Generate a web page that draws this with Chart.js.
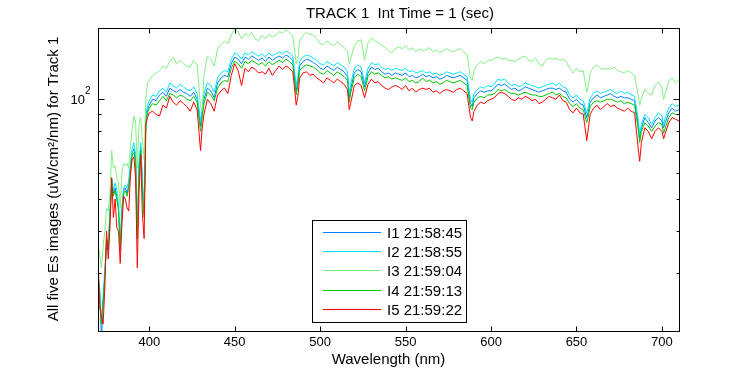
<!DOCTYPE html>
<html>
<head>
<meta charset="utf-8">
<script src="https://cdn.jsdelivr.net/npm/chart.js@4.4.1/dist/chart.umd.min.js"></script>
<style>
  html, body { margin: 0; padding: 0; background: #fff; }
  #wrap { width: 750px; height: 375px; }
</style>
</head>
<body>
<div id="wrap"><canvas id="esChart" width="750" height="375"></canvas></div>
<script>
// wavelength samples (nm)
const wavelength = [
  370,371,372,373,374,375,376,377,378,379,380,381,382,383,384,385,386,387,388,389,390,391,392,393,394,395,396,397,398,399,400,
  402,404,406,408,410,412,414,416,418,420,422,424,426,428,430,431,
  432,434,436,438,440,442,444,446,448,450,452,454,456,458,460,462,464,466,468,470,472,474,476,478,480,482,484,486,487,
  488,490,492,494,496,498,500,502,504,506,508,510,512,514,516,517,
  518,520,522,524,526,528,530,532,534,536,538,540,542,544,546,548,550,552,554,556,558,560,562,564,566,568,570,572,574,576,578,580,582,584,586,588,589,
  590,592,594,596,598,600,602,604,606,608,610,612,614,616,618,620,622,624,626,628,630,632,634,636,638,640,642,644,646,648,650,652,654,656,657,
  658,660,662,664,666,668,670,672,674,676,678,680,682,684,686,687,
  688,690,692,694,696,698,700,701,702,704,706,708,710
];

// Es values per image (uW/cm^2/nm)
const i1 = [
  27,26,19,24,30,36,35,45,57,52,54,51,47,35,46,53,54,52,55,62,69,71,66,39,62,72,55,45,87,93,96,
  100,99,103,105,102,108,106,105,107,105,104,102,105,100,83,91,
  100,108,106,101,112,116,118,117,128,134,132,128,134,132,135,133,131,133,130,134,131,133,135,133,136,134,131,106,114,
  126,130,132,131,129,127,124,123,126,124,122,125,123,121,117,101,
  108,120,123,121,109,120,125,123,124,121,119,120,118,120,119,118,120,117,118,116,117,119,117,118,116,117,115,116,118,117,116,117,118,116,114,97,95,
  101,104,106,105,106,106,108,111,110,111,109,107,108,106,107,109,108,107,106,105,106,107,108,108,107,108,106,105,100,98,100,97,96,88,92,
  98,101,103,101,102,103,104,102,101,102,101,101,100,99,85,76,
  82,88,85,82,86,88,86,82,85,91,94,92,93
];
const i2 = [
  29,27,21,25,31,37,37,46,58,53,56,53,48,37,47,54,55,54,57,64,71,74,68,40,64,74,57,46,89,96,99,
  103,102,106,108,105,112,110,108,111,109,107,106,109,104,86,94,
  104,112,110,105,116,120,122,121,132,138,136,132,138,136,139,137,135,137,134,138,135,137,139,137,140,138,135,110,118,
  130,134,136,135,133,131,128,127,130,128,126,129,127,125,121,104,
  112,124,127,125,112,124,129,127,128,125,123,124,122,124,123,122,124,121,122,120,121,122,120,121,119,120,118,119,121,120,119,120,121,119,117,100,98,
  104,107,109,108,110,109,111,115,114,115,112,110,111,109,110,112,111,110,109,108,109,110,111,112,110,112,109,108,103,101,103,100,99,91,95,
  101,104,106,104,105,106,107,105,104,106,104,105,103,102,88,78,
  84,90,88,84,88,91,89,84,88,94,97,95,96
];
const i3 = [
  37,34,31,36,40,47,46,52,70,62,63,58,56,47,60,64,63,64,62,72,82,89,86,62,84,88,75,66,101,112,114,
  118,120,122,126,124,130,134,128,131,128,126,125,131,127,95,92,
  118,135,132,126,142,146,150,147,156,163,160,152,158,155,159,152,150,156,152,157,154,156,160,158,162,159,155,128,132,
  150,156,159,157,156,152,147,146,150,147,145,149,146,143,140,128,
  133,145,150,151,131,148,153,150,148,146,143,140,138,142,144,142,145,141,143,139,142,140,141,143,139,141,138,140,142,140,139,141,142,139,136,116,114,
  122,127,130,128,131,131,133,134,132,133,131,131,130,132,134,135,131,130,133,128,126,131,133,132,133,131,132,130,124,120,124,121,122,105,110,
  120,125,127,124,123,124,123,125,122,121,120,122,120,118,104,96,
  101,107,104,103,110,113,108,100,104,114,116,112,115
];
const i4 = [
  31,24,21,25,29,38,36,44,56,51,53,50,46,36,45,52,53,51,54,61,68,69,65,38,60,70,53,44,85,91,94,
  97,96,99,102,99,104,103,101,103,102,100,99,102,98,80,88,
  97,105,103,99,108,112,114,113,124,130,128,124,130,128,131,129,127,129,126,130,127,129,131,129,132,130,127,103,110,
  122,125,127,126,125,123,120,119,122,120,118,121,119,117,114,98,
  105,116,119,117,106,117,121,119,120,118,116,117,115,116,115,114,116,113,114,112,113,116,113,114,112,113,111,112,114,113,112,113,114,112,110,94,93,
  98,101,102,101,103,103,104,107,106,107,105,104,104,103,104,105,104,103,103,102,102,103,104,105,103,104,102,101,97,95,97,94,93,85,89,
  95,98,99,98,99,100,100,99,98,99,97,98,97,96,82,74,
  80,85,83,80,83,85,84,79,82,88,91,90,90
];
const i5 = [
  33,24,22,21,27,40,33,41,58,44,50,41,40,32,42,51,50,47,46,59,66,67,58,31,52,68,45,38,84,88,91,
  92,90,89,96,94,102,98,96,99,97,95,92,98,93,70,82,
  90,100,97,92,103,106,108,104,118,128,122,110,124,121,125,123,120,121,119,124,118,122,126,123,126,124,121,96,102,
  116,120,121,118,119,116,114,112,116,114,112,115,113,111,107,93,
  98,110,112,110,101,111,115,112,113,110,108,107,109,110,109,107,110,106,108,105,107,108,107,108,105,106,104,106,107,106,105,107,108,106,104,88,86,
  92,96,98,97,99,100,101,104,105,104,102,100,99,101,100,102,101,99,100,97,98,100,102,101,100,103,99,98,93,91,94,91,90,75,82,
  90,94,96,93,95,97,95,96,94,93,92,94,92,91,72,65,
  74,82,80,76,80,82,80,76,79,85,88,87,86
];

const seriesLabels = ['I1 21:58:45', 'I2 21:58:55', 'I3 21:59:04', 'I4 21:59:13', 'I5 21:59:22'];
const seriesColors = ['#0080ff', '#00e6f6', '#80f080', '#00c800', '#ff0000'];
const xTicks = [400, 450, 500, 550, 600, 650, 700];
const yMajorTicks = [100];
const yMinorTicks = [30, 40, 50, 60, 70, 80, 90];

const FONT = "'Liberation Sans', Arial, Helvetica, sans-serif";

const toPoints = (ys) => ys.map((y, i) => ({ x: wavelength[i], y: y }));

const datasets = [i1, i2, i3, i4, i5].map((ys, k) => ({
  label: seriesLabels[k],
  data: toPoints(ys),
  borderColor: seriesColors[k],
  borderWidth: 1,
  pointRadius: 0,
  fill: false,
  tension: 0,
  order: 5 - k   // last image drawn on top, like matlab
}));

// box, inward ticks, labels and legend drawn matlab style
const matlabFrame = {
  id: 'matlabFrame',
  afterDatasetsDraw(chart) {
    const ctx = chart.ctx;
    const a = chart.chartArea;
    const xs = chart.scales.x;
    const ys = chart.scales.y;
    const L = Math.round(a.left) + 0.5, R = Math.round(a.right) + 0.5;
    const T = Math.round(a.top) + 0.5, B = Math.round(a.bottom) + 0.5;

    ctx.save();
    ctx.strokeStyle = '#000';
    ctx.lineWidth = 1;
    ctx.strokeRect(L, T, R - L, B - T);

    ctx.beginPath();
    xTicks.forEach(v => {
      const px = Math.round(xs.getPixelForValue(v)) + 0.5;
      ctx.moveTo(px, B); ctx.lineTo(px, B - 5);
      ctx.moveTo(px, T); ctx.lineTo(px, T + 5);
    });
    yMajorTicks.forEach(v => {
      const py = Math.round(ys.getPixelForValue(v)) + 0.5;
      ctx.moveTo(L, py); ctx.lineTo(L + 6, py);
      ctx.moveTo(R, py); ctx.lineTo(R - 6, py);
    });
    yMinorTicks.forEach(v => {
      const py = Math.round(ys.getPixelForValue(v)) + 0.5;
      ctx.moveTo(L, py); ctx.lineTo(L + 3, py);
      ctx.moveTo(R, py); ctx.lineTo(R - 3, py);
    });
    ctx.stroke();

    // 10^2 label
    ctx.fillStyle = '#000';
    const p100 = ys.getPixelForValue(100);
    ctx.font = '13px ' + FONT;
    ctx.textAlign = 'right';
    ctx.textBaseline = 'middle';
    ctx.fillText('10', 85, p100 + 1);
    ctx.font = '10px ' + FONT;
    ctx.textAlign = 'left';
    ctx.fillText('2', 85, p100 - 8);

    // title
    ctx.font = '15px ' + FONT;
    ctx.textAlign = 'center';
    ctx.textBaseline = 'alphabetic';
    ctx.fillText('TRACK 1  Int Time = 1 (sec)', 400, 17.5);

    // x label
    ctx.fillText('Wavelength (nm)', (a.left + a.right) / 2, 364);

    // y label
    ctx.save();
    ctx.translate(58, 179);
    ctx.rotate(-Math.PI / 2);
    ctx.fillText('All five Es images (uW/cm\u00b2/nm) for Track 1', 0, 0);
    ctx.restore();

    // legend
    const bx = 312.5, by = 220.5, bw = 154, bh = 102;
    ctx.fillStyle = '#fff';
    ctx.fillRect(bx, by, bw, bh);
    ctx.strokeStyle = '#000';
    ctx.strokeRect(bx, by, bw, bh);
    ctx.font = '15px ' + FONT;
    ctx.textAlign = 'left';
    ctx.textBaseline = 'middle';
    chart.data.datasets.forEach((ds, k) => {
      const ry = Math.round(232 + k * 19.2) + 0.5;
      ctx.strokeStyle = ds.borderColor;
      ctx.beginPath();
      ctx.moveTo(323, ry); ctx.lineTo(381, ry);
      ctx.stroke();
      ctx.fillStyle = '#000';
      ctx.fillText(ds.label, 387, ry + 1);
    });
    ctx.restore();
  }
};

const chart = new Chart(document.getElementById('esChart').getContext('2d'), {
  type: 'line',
  data: { datasets: datasets },
  options: {
    responsive: false,
    animation: false,
    devicePixelRatio: 1,
    layout: { padding: { top: 28, right: 71, left: 0, bottom: 0 } },
    plugins: {
      legend: { display: false },
      tooltip: { enabled: false },
      title: { display: false }
    },
    scales: {
      x: {
        type: 'linear',
        min: 370,
        max: 710,
        afterBuildTicks: (s) => { s.ticks = xTicks.map(v => ({ value: v })); },
        afterFit: (s) => { s.height = 44; },
        grid: { display: false, drawTicks: false },
        border: { display: false },
        ticks: {
          autoSkip: false,
          maxRotation: 0,
          padding: 4,
          color: '#000',
          font: { family: FONT, size: 13 }
        }
      },
      y: {
        type: 'logarithmic',
        min: 20,
        max: 164,
        afterFit: (s) => { s.width = 98; },
        grid: { display: false, drawTicks: false },
        border: { display: false },
        ticks: { display: false }
      }
    }
  },
  plugins: [matlabFrame]
});
</script>
</body>
</html>
